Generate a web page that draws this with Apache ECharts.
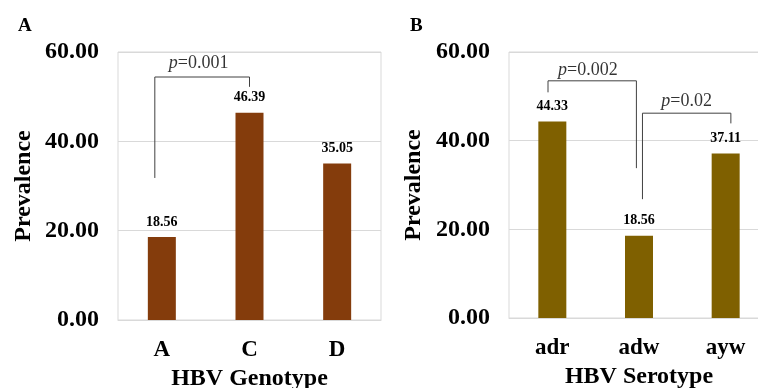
<!DOCTYPE html>
<html>
<head>
<meta charset="utf-8">
<script src="https://cdn.jsdelivr.net/npm/echarts@6/dist/echarts.min.js"></script>
<style>html,body{margin:0;padding:0;background:#fff;}#c{width:758px;height:388px;}</style>
</head>
<body>
<div id="c"></div>
<script>
// ---- data ----
const genotypes = ['A', 'C', 'D'];
const genotypeValues = [18.56, 46.39, 35.05];
const serotypes = ['adr', 'adw', 'ayw'];
const serotypeValues = [44.33, 18.56, 37.11];
const yTickValues = [0, 20, 40, 60];
// significance brackets (x in category index units, y in prevalence units)
const bracketA = [[-0.08, 31.8], [-0.08, 54.4], [1.0, 54.4], [1.0, 52.2]];
const bracketB1 = [[-0.05, 50.9], [-0.05, 53.5], [0.97, 53.5], [0.97, 33.8]];
const bracketB2 = [[1.04, 26.8], [1.04, 46.2], [2.06, 46.2], [2.06, 43.9]];
const pLabelA = [[0.42, 57.5, '0.001']];
const pLabelsB = [[0.41, 55.9, '0.002'], [1.55, 48.8, '0.02']];

const FONT = "'Times New Roman', 'Liberation Serif', serif";
const chart = echarts.init(document.getElementById('c'));

function catAxis(idx, cats, name) {
  return {
    type: 'category', gridIndex: idx, data: cats,
    name: name, nameLocation: 'middle', nameGap: 40,
    nameTextStyle: { fontFamily: FONT, fontWeight: 'bold', fontSize: 24, color: '#000' },
    axisLine: { show: true, lineStyle: { color: '#d9d9d9' } },
    axisTick: { show: false },
    axisLabel: { fontFamily: FONT, fontWeight: 'bold', fontSize: 23, color: '#000', margin: 19 }
  };
}
function valXAxis(idx) {
  return { type: 'value', gridIndex: idx, min: -0.5, max: 2.5, show: false };
}
function valYAxis(idx, gap) {
  return {
    type: 'value', gridIndex: idx, min: 0, max: 60, interval: 20,
    name: 'Prevalence', nameLocation: 'middle', nameGap: gap,
    nameTextStyle: { fontFamily: FONT, fontWeight: 'bold', fontSize: 24, color: '#000' },
    axisLine: { show: false }, axisTick: { show: false },
    splitLine: { lineStyle: { color: '#d9d9d9' } },
    axisLabel: { fontFamily: FONT, fontWeight: 'bold', fontSize: 24, color: '#000', margin: 19,
      formatter: v => yTickValues.includes(v) ? v.toFixed(2) : '' }
  };
}
function barSeries(idx, vals, color) {
  return {
    type: 'bar', xAxisIndex: idx * 2, yAxisIndex: idx, data: vals, barWidth: 28,
    itemStyle: { color: color },
    label: { show: true, position: 'top', distance: 8, fontFamily: FONT, fontWeight: 'bold',
      fontSize: 14, color: '#000', formatter: p => p.value.toFixed(2) }
  };
}
function bracketSeries(idx, pts) {
  return {
    type: 'line', xAxisIndex: idx * 2 + 1, yAxisIndex: idx, data: pts,
    symbol: 'none', lineStyle: { color: '#404040', width: 1 }, z: 5, silent: true, animation: false
  };
}
function pSeries(idx, pts) {
  return {
    type: 'scatter', xAxisIndex: idx * 2 + 1, yAxisIndex: idx, symbolSize: 0,
    data: pts.map(p => ({ value: [p[0], p[1]], pv: p[2] })),
    label: {
      show: true, position: 'inside', fontFamily: FONT, fontSize: 18, color: '#000',
      formatter: p => '{i|p}=' + p.data.pv,
      rich: { i: { fontFamily: FONT, fontStyle: 'italic', fontSize: 18, color: '#000' } }
    }, silent: true, animation: false
  };
}

chart.setOption({
  animation: false,
  title: [
    { text: 'A', left: 13, top: 12, textStyle: { fontFamily: FONT, fontWeight: 'bold', fontSize: 19, color: '#000' } },
    { text: 'B', left: 405, top: 12, textStyle: { fontFamily: FONT, fontWeight: 'bold', fontSize: 19, color: '#000' } }
  ],
  grid: [
    { left: 118, top: 52, width: 263, height: 268, show: true, borderColor: '#d9d9d9', borderWidth: 1, outerBoundsMode: 'none', containLabel: false },
    { left: 509, top: 52, width: 260, height: 266, show: true, borderColor: '#d9d9d9', borderWidth: 1, outerBoundsMode: 'none', containLabel: false }
  ],
  xAxis: [
    catAxis(0, genotypes, 'HBV Genotype'), valXAxis(0),
    catAxis(1, serotypes, 'HBV Serotype'), valXAxis(1)
  ],
  yAxis: [valYAxis(0, 82), valYAxis(1, 83)],
  series: [
    barSeries(0, genotypeValues, '#843C0C'),
    barSeries(1, serotypeValues, '#7F6000'),
    bracketSeries(0, bracketA),
    bracketSeries(1, bracketB1),
    bracketSeries(1, bracketB2),
    pSeries(0, pLabelA),
    pSeries(1, pLabelsB)
  ]
});
</script>
</body>
</html>
